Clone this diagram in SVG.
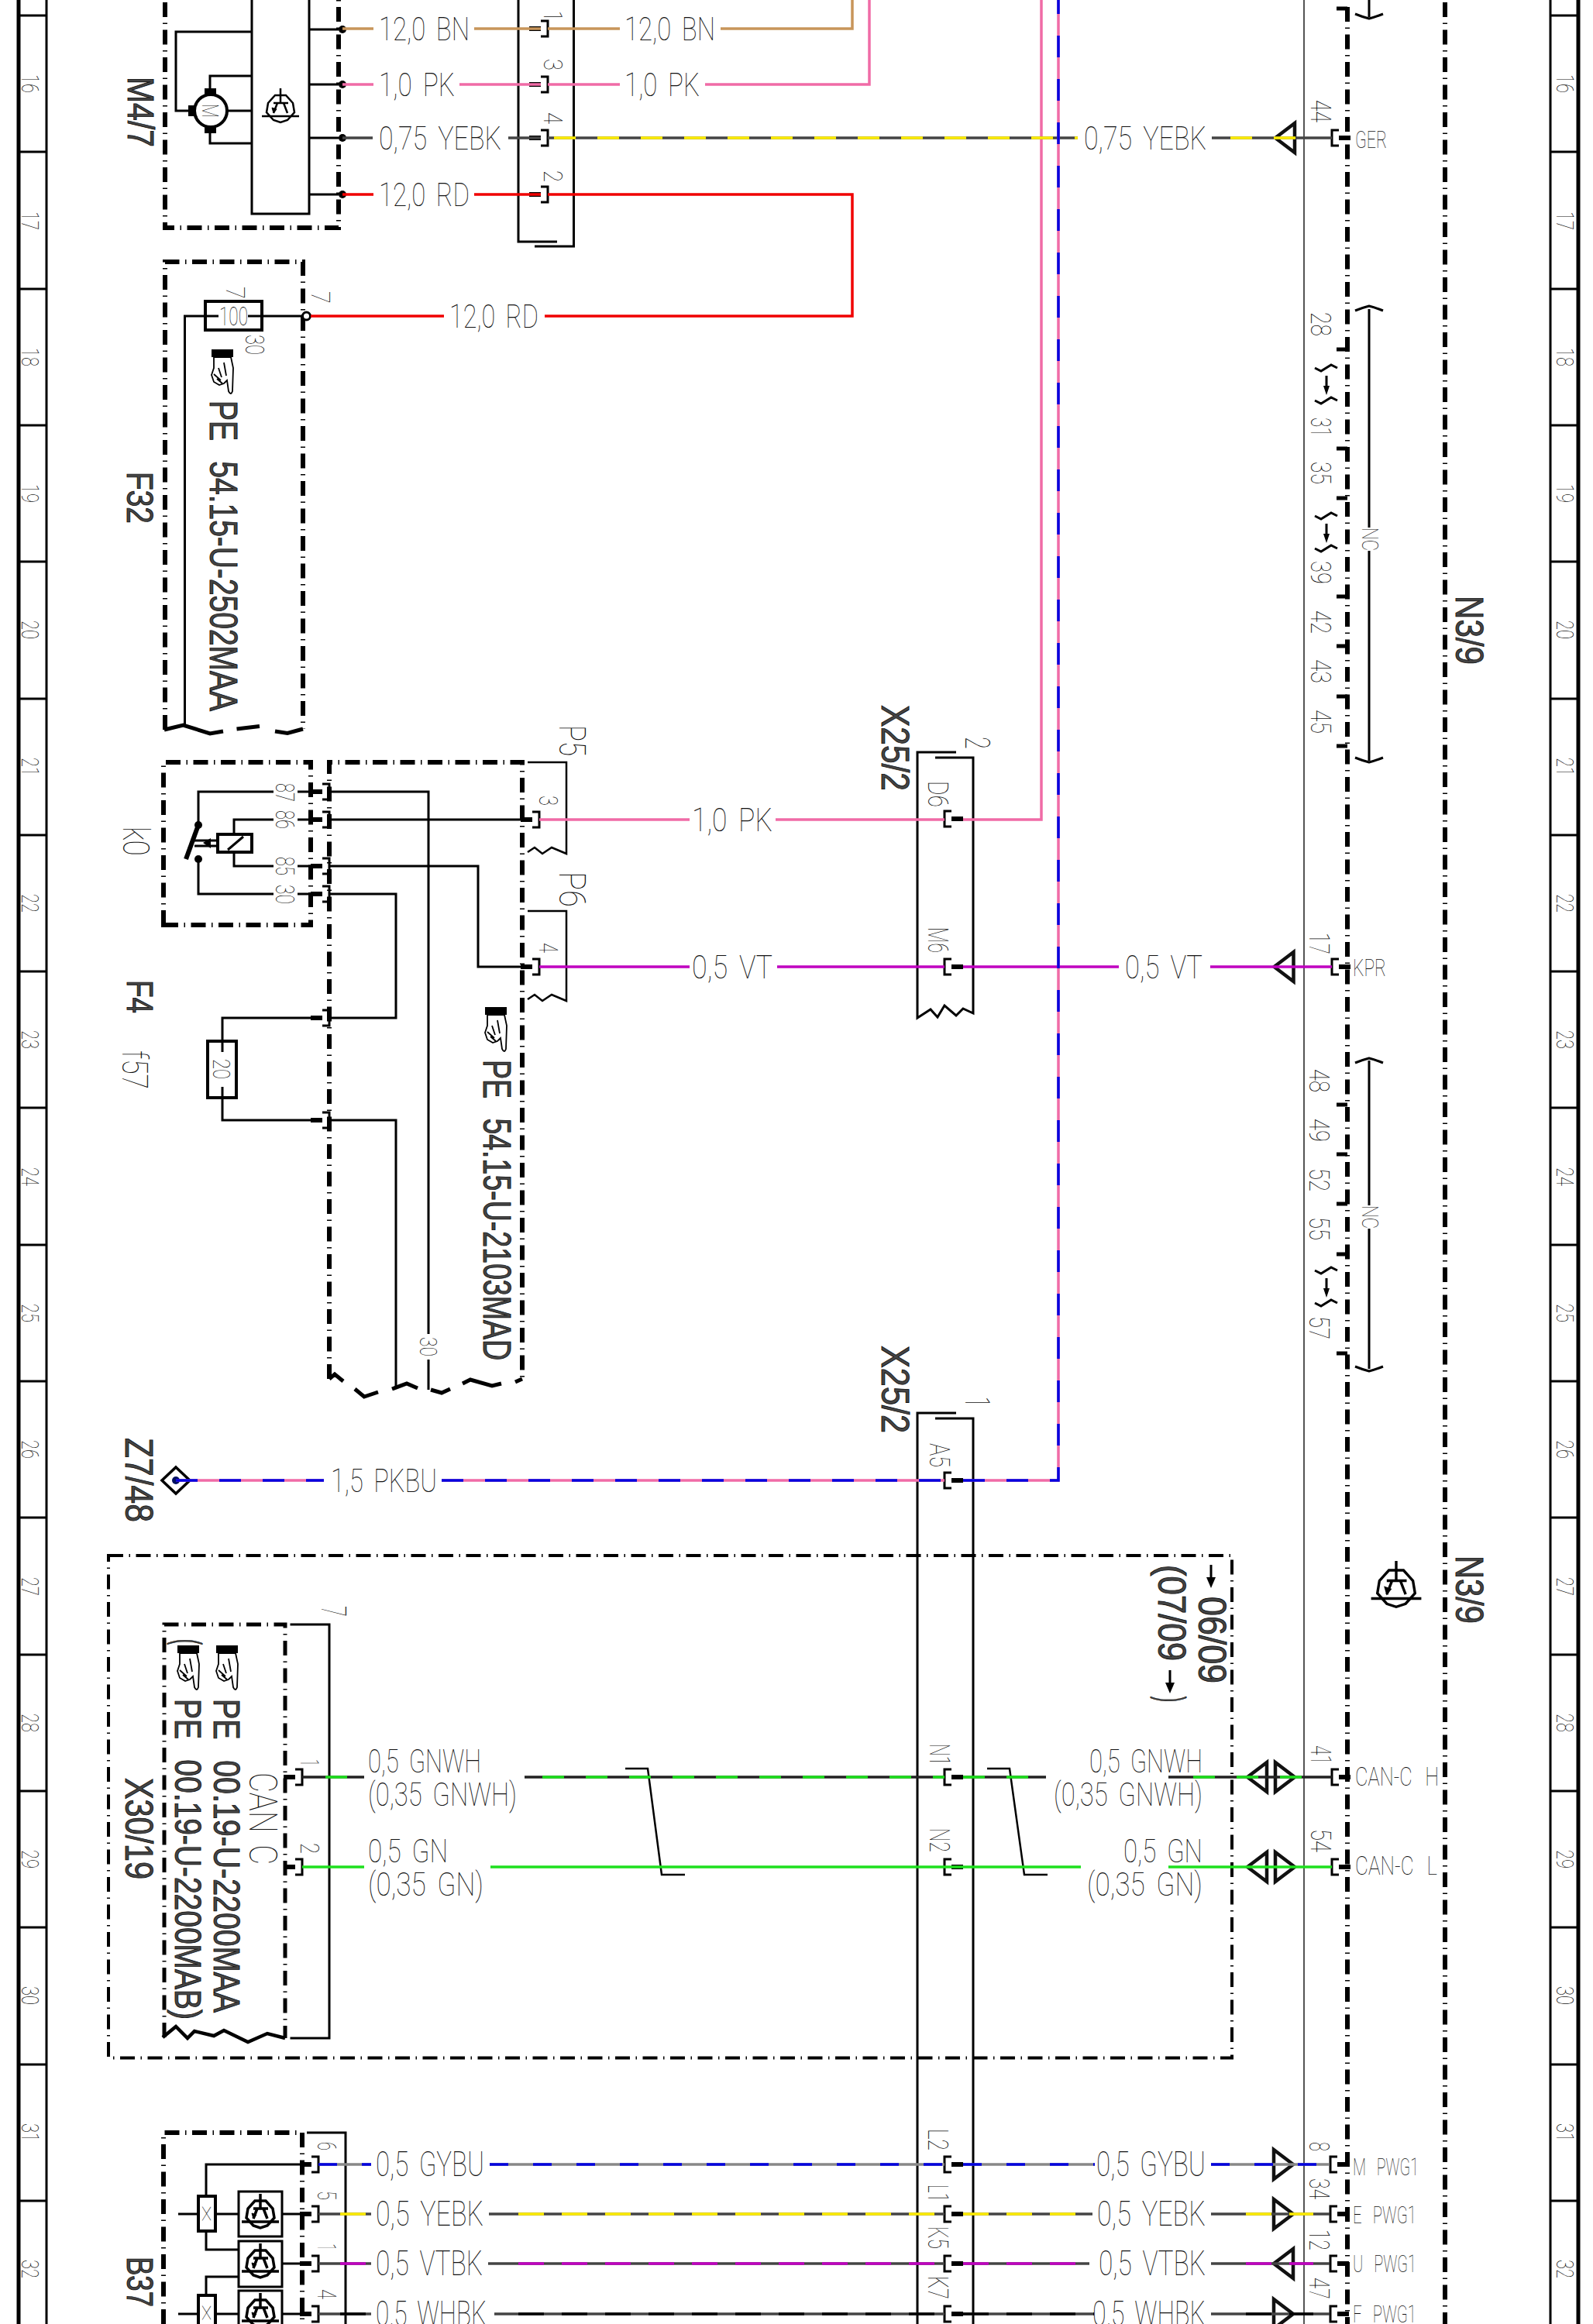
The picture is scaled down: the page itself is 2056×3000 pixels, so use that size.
<svg xmlns="http://www.w3.org/2000/svg" width="2056" height="3000" viewBox="0 0 2056 3000">
<style>
text{font-family:Roboto,"Liberation Sans",sans-serif;}
.t{font-weight:100;fill:#111;word-spacing:.45em}
.b{font-family:"Liberation Sans",sans-serif;font-weight:400;fill:#444;stroke:#111;stroke-width:.9;word-spacing:.4em}
.k{fill:none;stroke:#000;stroke-width:3}
.k2{fill:none;stroke:#000;stroke-width:2.5}
.dd{fill:none;stroke:#000;stroke-width:6;stroke-dasharray:19 7.5 1.5 7.5}
.dd2{fill:none;stroke:#000;stroke-width:4;stroke-dasharray:19 7.5 1.5 7.5}
.w{fill:none;stroke-width:3.5}
.bn{stroke:#c8955a}.pk{stroke:#f06ba6}.rd{stroke:#f00000}.vt{stroke:#c000c0}.gn{stroke:#1ee01e}.dk{stroke:#444}.bk{stroke:#222}.gy{stroke:#888}
.ye2{stroke:#ffee00;stroke-dasharray:28 28}.gn2{stroke:#1ee01e;stroke-dasharray:28 28}.bu2{stroke:#0000e0;stroke-dasharray:28 28}
.bu3{stroke:#0000e0;stroke-dasharray:24 32}.ye3{stroke:#ffee00;stroke-dasharray:33 23}.vt3{stroke:#c000c0;stroke-dasharray:33 23}.bk3{stroke:#000;stroke-dasharray:33 23}
.tri{fill:none;stroke:#111;stroke-width:4.5}
</style>
<defs>
<g id="pr"><path class="k" d="M-9-10H0V10H-9"/><rect x="-24" y="-3" width="15" height="6"/></g>
<g id="pl"><path class="k" d="M9-10H0V10H9"/><rect x="9" y="-3" width="15" height="6"/></g>
<rect id="blk" x="1725" y="-2.5" width="14" height="5"/>
<polygon id="tl" class="tri" points="0,0 25,-19 25,19"/>
<polygon id="trr" class="tri" points="0,0 -25,-19 -25,19"/>
<path id="bt" class="k" d="M-18 5Q-8 1 0-1Q8 1 18 5"/>
<path id="bb" class="k" d="M-18-5Q-8-1 0 1Q8-1 18-5"/>
<g id="swap"><path class="k" d="M-15 0L-7 4 6-4 14 0M-15 42L-7 46 6 38 14 42M0 10V26"/><polygon points="-4,23 4,23 0,35"/></g>
<g id="tran" fill="none" stroke="#000"><polygon points="-7,-17 7,-17 16,-7 18,5 9,15 0,18 -9,15 -18,5 -16,-7"/><path d="M-24 10H24M0-26V-7M-9-7H10M-4-7L-9 6M4-7L9 6"/><polygon points="-9,6 -11,-1 -5,1" fill="#000" stroke-width="1"/></g>
<g id="hand"><rect width="28" height="10"/><path fill="#fff" stroke="#000" stroke-width="1.800" d="M3 10H25L28 24 27 54Q25 60 22 54L20 40 16 44 10 46 3 42 0 33 3 24ZM9 24L13 36M3 32L12 40M16 17L19 34M7 38L14 44"/></g>
</defs>

<g id="ruler-left">
<path class="k" d="M24 0V3000" style="stroke-width:5"/><path class="k" d="M60 0V3000"/>
<path class="k" d="M24 20H60M24 196H60M24 373H60M24 549H60M24 725H60M24 902H60M24 1078H60M24 1254H60M24 1430H60M24 1607H60M24 1783H60M24 1959H60M24 2136H60M24 2312H60M24 2488H60M24 2665H60M24 2841H60"/>
<g class="t" font-size="31">
<text transform="translate(28 96) rotate(90)" textLength="24" lengthAdjust="spacingAndGlyphs">16</text>
<text transform="translate(28 273) rotate(90)" textLength="24" lengthAdjust="spacingAndGlyphs">17</text>
<text transform="translate(28 449) rotate(90)" textLength="24" lengthAdjust="spacingAndGlyphs">18</text>
<text transform="translate(28 625) rotate(90)" textLength="24" lengthAdjust="spacingAndGlyphs">19</text>
<text transform="translate(28 801) rotate(90)" textLength="24" lengthAdjust="spacingAndGlyphs">20</text>
<text transform="translate(28 978) rotate(90)" textLength="24" lengthAdjust="spacingAndGlyphs">21</text>
<text transform="translate(28 1154) rotate(90)" textLength="24" lengthAdjust="spacingAndGlyphs">22</text>
<text transform="translate(28 1330) rotate(90)" textLength="24" lengthAdjust="spacingAndGlyphs">23</text>
<text transform="translate(28 1507) rotate(90)" textLength="24" lengthAdjust="spacingAndGlyphs">24</text>
<text transform="translate(28 1683) rotate(90)" textLength="24" lengthAdjust="spacingAndGlyphs">25</text>
<text transform="translate(28 1859) rotate(90)" textLength="24" lengthAdjust="spacingAndGlyphs">26</text>
<text transform="translate(28 2036) rotate(90)" textLength="24" lengthAdjust="spacingAndGlyphs">27</text>
<text transform="translate(28 2212) rotate(90)" textLength="24" lengthAdjust="spacingAndGlyphs">28</text>
<text transform="translate(28 2388) rotate(90)" textLength="24" lengthAdjust="spacingAndGlyphs">29</text>
<text transform="translate(28 2564) rotate(90)" textLength="24" lengthAdjust="spacingAndGlyphs">30</text>
<text transform="translate(28 2741) rotate(90)" textLength="24" lengthAdjust="spacingAndGlyphs">31</text>
<text transform="translate(28 2917) rotate(90)" textLength="24" lengthAdjust="spacingAndGlyphs">32</text>
</g>
</g>

<g id="ruler-right">
<path class="k" d="M2037 0V3000" style="stroke-width:5"/><path class="k" d="M2001 0V3000"/>
<path class="k" d="M2001 20H2037M2001 196H2037M2001 373H2037M2001 549H2037M2001 725H2037M2001 902H2037M2001 1078H2037M2001 1254H2037M2001 1430H2037M2001 1607H2037M2001 1783H2037M2001 1959H2037M2001 2136H2037M2001 2312H2037M2001 2488H2037M2001 2665H2037M2001 2841H2037"/>
<g class="t" font-size="31">
<text transform="translate(2009 96) rotate(90)" textLength="24" lengthAdjust="spacingAndGlyphs">16</text>
<text transform="translate(2009 273) rotate(90)" textLength="24" lengthAdjust="spacingAndGlyphs">17</text>
<text transform="translate(2009 449) rotate(90)" textLength="24" lengthAdjust="spacingAndGlyphs">18</text>
<text transform="translate(2009 625) rotate(90)" textLength="24" lengthAdjust="spacingAndGlyphs">19</text>
<text transform="translate(2009 801) rotate(90)" textLength="24" lengthAdjust="spacingAndGlyphs">20</text>
<text transform="translate(2009 978) rotate(90)" textLength="24" lengthAdjust="spacingAndGlyphs">21</text>
<text transform="translate(2009 1154) rotate(90)" textLength="24" lengthAdjust="spacingAndGlyphs">22</text>
<text transform="translate(2009 1330) rotate(90)" textLength="24" lengthAdjust="spacingAndGlyphs">23</text>
<text transform="translate(2009 1507) rotate(90)" textLength="24" lengthAdjust="spacingAndGlyphs">24</text>
<text transform="translate(2009 1683) rotate(90)" textLength="24" lengthAdjust="spacingAndGlyphs">25</text>
<text transform="translate(2009 1859) rotate(90)" textLength="24" lengthAdjust="spacingAndGlyphs">26</text>
<text transform="translate(2009 2036) rotate(90)" textLength="24" lengthAdjust="spacingAndGlyphs">27</text>
<text transform="translate(2009 2212) rotate(90)" textLength="24" lengthAdjust="spacingAndGlyphs">28</text>
<text transform="translate(2009 2388) rotate(90)" textLength="24" lengthAdjust="spacingAndGlyphs">29</text>
<text transform="translate(2009 2564) rotate(90)" textLength="24" lengthAdjust="spacingAndGlyphs">30</text>
<text transform="translate(2009 2741) rotate(90)" textLength="24" lengthAdjust="spacingAndGlyphs">31</text>
<text transform="translate(2009 2917) rotate(90)" textLength="24" lengthAdjust="spacingAndGlyphs">32</text>
</g>
</g>

<g id="M4-7">
<path class="dd" d="M213 3V294H437V0"/>
<path class="k" d="M325 0V276H399V0"/>
<path class="k" d="M325 41H227V143H243M325 98H271V115M294 143H325M271 171V185H325M399 38H437M399 109H437M399 178H437M399 251H437"/>
<circle cx="272" cy="143" r="21" fill="#fff" stroke="#000" stroke-width="4"/>
<rect x="243" y="136" width="8" height="14"/><rect x="264" y="114" width="15" height="9"/><rect x="264" y="163" width="15" height="9"/>
<text class="t" transform="translate(261 134) rotate(90)" font-size="30" textLength="18" lengthAdjust="spacingAndGlyphs">M</text>
<use href="#tran" x="362" y="140" stroke-width="2.5"/>
<circle cx="442" cy="38" r="5"/><circle cx="442" cy="109" r="5"/><circle cx="442" cy="178" r="5"/><circle cx="442" cy="251" r="5"/>
<text class="b" transform="translate(165 99) rotate(90)" font-size="48" textLength="91" lengthAdjust="spacingAndGlyphs">M4/7</text>
</g>

<g id="connector-top">
<path class="k" d="M669 0V312H719M740.500 0V318H690"/>
<use href="#pr" x="707" y="37"/><use href="#pr" x="707" y="109"/><use href="#pr" x="707" y="178"/><use href="#pr" x="707" y="251"/>
<g class="t" font-size="34">
<text transform="translate(702 14) rotate(90)" textLength="13" lengthAdjust="spacingAndGlyphs">1</text>
<text transform="translate(702 76) rotate(90)" textLength="15" lengthAdjust="spacingAndGlyphs">3</text>
<text transform="translate(702 145) rotate(90)" textLength="15" lengthAdjust="spacingAndGlyphs">4</text>
<text transform="translate(702 220) rotate(90)" textLength="15" lengthAdjust="spacingAndGlyphs">2</text>
</g>
</g>

<g id="F32">
<path class="dd" d="M213 942V338H391V941"/>
<path style="fill:none;stroke:#000;stroke-width:5" d="M212 942L236.500 936 271 947 288 944M305.500 941L335 937.500M355 944L371 946.500 391 941"/>
<path class="k" d="M238.500 936V408H282M320 408H391"/>
<rect x="265" y="389" width="73" height="37" fill="none" stroke="#000" stroke-width="4"/>
<circle cx="395.500" cy="408" r="5" fill="#fff" stroke="#000" stroke-width="3"/>
<text class="t" x="283" y="420" font-size="33" textLength="37" lengthAdjust="spacingAndGlyphs">100</text>
<g class="t" font-size="34">
<text transform="translate(292 370) rotate(90)" textLength="16" lengthAdjust="spacingAndGlyphs">7</text>
<text transform="translate(317 432) rotate(90)" textLength="26" lengthAdjust="spacingAndGlyphs">30</text>
<text transform="translate(402 376) rotate(90)" textLength="16" lengthAdjust="spacingAndGlyphs">7</text>
</g>
<use href="#hand" x="273" y="451"/>
<text class="b" transform="translate(271 517) rotate(90)" font-size="50" textLength="401" lengthAdjust="spacingAndGlyphs">PE 54.15-U-2502MAA</text>
<text class="b" transform="translate(164 609) rotate(90)" font-size="48" textLength="67" lengthAdjust="spacingAndGlyphs">F32</text>
</g>

<g id="k0">
<path class="dd" d="M211 1194V984H401V1194H211Z"/>
<path class="k" d="M256 1065V1022H353M384 1022H402M302 1077V1058H353M384 1058H402M302 1100V1118H353M384 1118H402M256 1109V1154H353M384 1154H402"/>
<path d="M256 1065L240 1109" fill="none" stroke="#000" stroke-width="6"/>
<circle cx="256" cy="1065" r="5"/><circle cx="256" cy="1109" r="5"/>
<path class="k" d="M251 1085H281M251 1092H281"/><polygon points="262,1088 272,1082 272,1095"/>
<rect x="281" y="1077" width="44" height="23" fill="#fff" stroke="#000" stroke-width="4"/>
<path class="k" d="M294 1097L314 1080"/>
<g class="t" font-size="34">
<text transform="translate(356 1011) rotate(90)" textLength="24" lengthAdjust="spacingAndGlyphs">87</text>
<text transform="translate(356 1046) rotate(90)" textLength="24" lengthAdjust="spacingAndGlyphs">86</text>
<text transform="translate(356 1106) rotate(90)" textLength="24" lengthAdjust="spacingAndGlyphs">85</text>
<text transform="translate(356 1142) rotate(90)" textLength="25" lengthAdjust="spacingAndGlyphs">30</text>
</g>
<text class="t" transform="translate(159 1067) rotate(90)" font-size="48" textLength="38" lengthAdjust="spacingAndGlyphs">k0</text>
</g>

<g id="F4">
<path class="dd" d="M425 1780V984H674V1780"/>
<path style="fill:none;stroke:#000;stroke-width:5" d="M425 1780L432 1774 443 1783M458 1793L470 1803 488 1797M506 1793L525 1786 539 1792M556 1794L570 1798 581 1793M597 1786L607 1781 635 1789 647 1786M665 1784L674 1780"/>
<use href="#pr" x="425" y="1022"/><use href="#pr" x="425" y="1058"/><use href="#pr" x="425" y="1118"/><use href="#pr" x="425" y="1154"/><use href="#pr" x="425" y="1314"/><use href="#pr" x="425" y="1446"/>
<use href="#pr" x="696" y="1058"/><use href="#pr" x="696" y="1248"/>
<path class="k" d="M425 1022H553V1722M553 1755V1794M425 1058H673M425 1118H617V1248H673M425 1154H511V1314H425M402 1314H287V1358M287 1403V1446H402M425 1446H511V1790"/>
<rect x="268" y="1344" width="37" height="73" fill="none" stroke="#000" stroke-width="4"/>
<text class="t" transform="translate(275 1367) rotate(90)" font-size="31" textLength="26" lengthAdjust="spacingAndGlyphs">20</text>
<text class="t" transform="translate(542 1726) rotate(90)" font-size="32" textLength="25" lengthAdjust="spacingAndGlyphs">30</text>
<path class="k2" d="M681 984H731V1102L712 1094 700 1102 690 1094 681 1100M681 1176H731V1292L712 1284 700 1292 690 1284 681 1290"/>
<g class="t">
<text transform="translate(696 1027) rotate(90)" font-size="34" textLength="13" lengthAdjust="spacingAndGlyphs">3</text>
<text transform="translate(696 1217) rotate(90)" font-size="34" textLength="13" lengthAdjust="spacingAndGlyphs">4</text>
<text transform="translate(722 936) rotate(90)" font-size="48" textLength="40" lengthAdjust="spacingAndGlyphs">P5</text>
<text transform="translate(722 1125) rotate(90)" font-size="48" textLength="46" lengthAdjust="spacingAndGlyphs">P6</text>
<text transform="translate(158 1356) rotate(90)" font-size="46" textLength="50" lengthAdjust="spacingAndGlyphs">f57</text>
</g>
<use href="#hand" x="626" y="1300"/>
<text class="b" transform="translate(624 1368) rotate(90)" font-size="50" textLength="388" lengthAdjust="spacingAndGlyphs">PE 54.15-U-2103MAD</text>
<text class="b" transform="translate(164 1265) rotate(90)" font-size="48" textLength="43" lengthAdjust="spacingAndGlyphs">F4</text>
</g>

<g id="X25-2">
<path class="k" d="M1234 971H1184V1314L1201 1303 1210 1313 1219 1298 1234 1311 1243 1302 1256 1308V978H1207"/>
<path class="k" d="M1234 1824H1184V3000M1207 1831H1256V3000"/>
<use href="#pl" x="1219" y="1057"/><use href="#pl" x="1219" y="1248"/><use href="#pl" x="1219" y="1911"/><use href="#pl" x="1219" y="2294"/><use href="#pl" x="1219" y="2410"/><use href="#pl" x="1219" y="2794"/><use href="#pl" x="1219" y="2858"/><use href="#pl" x="1219" y="2922"/><use href="#pl" x="1219" y="2987"/>
<g class="t" font-size="36">
<text transform="translate(1198 1008) rotate(90)" textLength="34" lengthAdjust="spacingAndGlyphs">D6</text>
<text transform="translate(1198 1197) rotate(90)" textLength="33" lengthAdjust="spacingAndGlyphs">M6</text>
<text transform="translate(1200 1863) rotate(90)" textLength="31" lengthAdjust="spacingAndGlyphs">A5</text>
<text transform="translate(1200 2251) rotate(90)" textLength="28" lengthAdjust="spacingAndGlyphs">N1</text>
<text transform="translate(1200 2360) rotate(90)" textLength="31" lengthAdjust="spacingAndGlyphs">N2</text>
<text transform="translate(1198 2748) rotate(90)" textLength="28" lengthAdjust="spacingAndGlyphs">L2</text>
<text transform="translate(1198 2820) rotate(90)" textLength="22" lengthAdjust="spacingAndGlyphs">L1</text>
<text transform="translate(1198 2874) rotate(90)" textLength="29" lengthAdjust="spacingAndGlyphs">K5</text>
<text transform="translate(1198 2938) rotate(90)" textLength="30" lengthAdjust="spacingAndGlyphs">K7</text>
<text transform="translate(1246 951) rotate(90)" font-size="44" textLength="16" lengthAdjust="spacingAndGlyphs">2</text>
<text transform="translate(1246 1803) rotate(90)" font-size="44" textLength="13" lengthAdjust="spacingAndGlyphs">1</text>
</g>
<text class="b" transform="translate(1138 910) rotate(90)" font-size="50" textLength="111" lengthAdjust="spacingAndGlyphs">X25/2</text>
<text class="b" transform="translate(1138 1737) rotate(90)" font-size="50" textLength="113" lengthAdjust="spacingAndGlyphs">X25/2</text>
</g>

<g id="Z7-48">
<polygon points="227,1894 245,1911 227,1928 209,1911" fill="#fff" stroke="#000" stroke-width="3.500"/>
<circle cx="227" cy="1911" r="5" fill="#001060"/>
<text class="b" transform="translate(162 1856) rotate(90)" font-size="50" textLength="109" lengthAdjust="spacingAndGlyphs">Z7/48</text>
</g>

<g id="N3-9">
<path class="k" d="M1683 0V3000" style="stroke:#555;stroke-width:2"/>
<path class="dd" d="M1739 9V3000"/><path class="dd" d="M1865 3V3000"/>
<use href="#blk" y="11"/><use href="#blk" y="451"/><use href="#blk" y="579"/><use href="#blk" y="643"/><use href="#blk" y="770"/><use href="#blk" y="834"/><use href="#blk" y="899"/><use href="#blk" y="963"/><use href="#blk" y="1426"/><use href="#blk" y="1490"/><use href="#blk" y="1554"/><use href="#blk" y="1619"/><use href="#blk" y="1747"/>
<use href="#pl" x="1719" y="178"/><use href="#pl" x="1719" y="1248"/><use href="#pl" x="1719" y="2294"/><use href="#pl" x="1719" y="2410"/><use href="#pl" x="1717" y="2794"/><use href="#pl" x="1717" y="2858"/><use href="#pl" x="1717" y="2922"/><use href="#pl" x="1717" y="2987"/>
<use href="#tl" x="1646" y="178"/><use href="#tl" x="1644.500" y="1248"/>
<use href="#tl" x="1610" y="2294"/><use href="#trr" x="1671" y="2294"/><use href="#tl" x="1610" y="2410"/><use href="#trr" x="1671" y="2410"/>
<use href="#trr" x="1669" y="2794"/><use href="#trr" x="1669" y="2858"/><use href="#tl" x="1644" y="2922"/><use href="#trr" x="1669" y="2987"/>
<path class="k" d="M1767 0V22M1767 399V681M1767 711V982M1767 1369V1556M1767 1586V1767"/>
<use href="#bb" x="1767" y="23"/><use href="#bt" x="1767" y="396"/><use href="#bb" x="1767" y="983"/><use href="#bt" x="1767" y="1367"/><use href="#bb" x="1767" y="1769"/>
<use href="#swap" x="1712" y="475"/><use href="#swap" x="1712" y="666"/><use href="#swap" x="1712" y="1640"/>
<g class="t" font-size="36">
<text transform="translate(1758 681) rotate(90)" font-size="30" textLength="30" lengthAdjust="spacingAndGlyphs">NC</text>
<text transform="translate(1758 1556) rotate(90)" font-size="30" textLength="30" lengthAdjust="spacingAndGlyphs">NC</text>
<text transform="translate(1692 129) rotate(90)" textLength="29" lengthAdjust="spacingAndGlyphs">44</text>
<text transform="translate(1692 403) rotate(90)" textLength="31" lengthAdjust="spacingAndGlyphs">28</text>
<text transform="translate(1692 539) rotate(90)" textLength="25" lengthAdjust="spacingAndGlyphs">31</text>
<text transform="translate(1692 596) rotate(90)" textLength="29" lengthAdjust="spacingAndGlyphs">35</text>
<text transform="translate(1692 724) rotate(90)" textLength="30" lengthAdjust="spacingAndGlyphs">39</text>
<text transform="translate(1692 788) rotate(90)" textLength="30" lengthAdjust="spacingAndGlyphs">42</text>
<text transform="translate(1692 851) rotate(90)" textLength="31" lengthAdjust="spacingAndGlyphs">43</text>
<text transform="translate(1692 916) rotate(90)" textLength="31" lengthAdjust="spacingAndGlyphs">45</text>
<text transform="translate(1690 1204) rotate(90)" textLength="28" lengthAdjust="spacingAndGlyphs">17</text>
<text transform="translate(1690 1380) rotate(90)" textLength="30" lengthAdjust="spacingAndGlyphs">48</text>
<text transform="translate(1690 1444) rotate(90)" textLength="30" lengthAdjust="spacingAndGlyphs">49</text>
<text transform="translate(1690 1508) rotate(90)" textLength="30" lengthAdjust="spacingAndGlyphs">52</text>
<text transform="translate(1690 1571) rotate(90)" textLength="30" lengthAdjust="spacingAndGlyphs">55</text>
<text transform="translate(1690 1699) rotate(90)" textLength="30" lengthAdjust="spacingAndGlyphs">57</text>
<text transform="translate(1692 2253) rotate(90)" textLength="25" lengthAdjust="spacingAndGlyphs">41</text>
<text transform="translate(1692 2361) rotate(90)" textLength="30" lengthAdjust="spacingAndGlyphs">54</text>
<text transform="translate(1690 2765) rotate(90)" textLength="12" lengthAdjust="spacingAndGlyphs">8</text>
<text transform="translate(1690 2812) rotate(90)" textLength="27" lengthAdjust="spacingAndGlyphs">34</text>
<text transform="translate(1690 2878) rotate(90)" textLength="27" lengthAdjust="spacingAndGlyphs">12</text>
<text transform="translate(1690 2940) rotate(90)" textLength="28" lengthAdjust="spacingAndGlyphs">47</text>
</g>
<g class="t" font-size="31">
<text x="1749" y="191" textLength="41" lengthAdjust="spacingAndGlyphs">GER</text>
<text x="1746" y="1260" textLength="43" lengthAdjust="spacingAndGlyphs">KPR</text>
<text x="1749" y="2305" font-size="34" textLength="108" lengthAdjust="spacingAndGlyphs">CAN-C H</text>
<text x="1749" y="2420" font-size="34" textLength="106" lengthAdjust="spacingAndGlyphs">CAN-C L</text>
<text x="1746" y="2808" textLength="85" lengthAdjust="spacingAndGlyphs">M PWG1</text>
<text x="1746" y="2870" textLength="82" lengthAdjust="spacingAndGlyphs">E PWG1</text>
<text x="1746" y="2933" textLength="82" lengthAdjust="spacingAndGlyphs">U PWG1</text>
<text x="1746" y="2998" textLength="82" lengthAdjust="spacingAndGlyphs">F PWG1</text>
</g>
<use href="#tran" transform="translate(1802 2050) scale(1.350)" stroke-width="2.500"/>
<text class="b" transform="translate(1879 769) rotate(90)" font-size="50" textLength="89" lengthAdjust="spacingAndGlyphs">N3/9</text>
<text class="b" transform="translate(1879 2008) rotate(90)" font-size="50" textLength="88" lengthAdjust="spacingAndGlyphs">N3/9</text>
</g>

<g id="CAN-box">
<path class="dd2" d="M140 2008H1590V2656.500H140Z"/>
<path class="k" d="M807 2283H836L854 2420H884M1274 2283H1303L1322 2420H1352" style="stroke-width:2.500"/>
<text class="b" transform="translate(1547 2061) rotate(90)" font-size="50" textLength="112" lengthAdjust="spacingAndGlyphs">06/09</text>
<path class="k" d="M1563 2020V2040"/><polygon points="1557,2036 1569,2036 1563,2050"/>
<text class="b" transform="translate(1495 2020) rotate(90)" font-size="50" textLength="124" lengthAdjust="spacingAndGlyphs">(07/09</text>
<path class="k" d="M1510 2156V2176"/><polygon points="1504,2172 1516,2172 1510,2186"/>
<text class="b" transform="translate(1495 2190) rotate(90)" font-size="50" textLength="7" lengthAdjust="spacingAndGlyphs">)</text>
</g>

<g id="X30-19">
<path class="dd" d="M212 2630V2097H368V2631" style="stroke-width:5"/>
<path style="fill:none;stroke:#000;stroke-width:4.500" d="M210 2630L227 2616 242 2631 251 2622 276 2628 289 2621 320 2636 345 2625 368 2631"/>
<path class="k" d="M374.500 2097H425V2631H374.500"/>
<use href="#pr" x="390" y="2294"/><use href="#pr" x="390" y="2410"/>
<g class="t">
<text transform="translate(388 2271) rotate(90)" font-size="34" textLength="9" lengthAdjust="spacingAndGlyphs">1</text>
<text transform="translate(388 2379) rotate(90)" font-size="34" textLength="14" lengthAdjust="spacingAndGlyphs">2</text>
<text transform="translate(415 2073) rotate(90)" font-size="44" textLength="14" lengthAdjust="spacingAndGlyphs">7</text>
<text transform="translate(322 2288) rotate(90)" font-size="50" textLength="119" lengthAdjust="spacingAndGlyphs">CAN C</text>
</g>
<use href="#hand" x="279" y="2124"/><use href="#hand" x="229" y="2124"/>
<text class="b" transform="translate(276 2193) rotate(90)" font-size="48" textLength="405" lengthAdjust="spacingAndGlyphs">PE 00.19-U-2200MAA</text>
<text class="b" transform="translate(226 2116) rotate(90)" font-size="48" textLength="7" lengthAdjust="spacingAndGlyphs">(</text>
<text class="b" transform="translate(226 2193) rotate(90)" font-size="48" textLength="414" lengthAdjust="spacingAndGlyphs">PE 00.19-U-2200MAB)</text>
<text class="b" transform="translate(162 2295) rotate(90)" font-size="50" textLength="131" lengthAdjust="spacingAndGlyphs">X30/19</text>
</g>

<g id="B37">
<path class="dd" d="M211 3000V2753H390V3000"/>
<path class="k" d="M396 2753H446V3000"/>
<use href="#pr" x="411" y="2794"/><use href="#pr" x="411" y="2858"/><use href="#pr" x="411" y="2922"/><use href="#pr" x="411" y="2987"/>
<path class="k" d="M266 2835V2794H390M230 2858H256M278 2858H308M364 2858H390M266 2880V2904H308M364 2922H390M308 2939H266V2963M230 2987H256M278 2987H308M364 2987H390"/>
<rect x="256" y="2835" width="22" height="45" fill="#fff" stroke="#000" stroke-width="4"/>
<rect x="256" y="2963" width="22" height="60" fill="#fff" stroke="#000" stroke-width="4"/>
<g fill="#fff" stroke="#000" stroke-width="3"><rect x="308" y="2829" width="56" height="58"/><rect x="308" y="2893" width="56" height="59"/><rect x="308" y="2957" width="56" height="60"/></g>
<use href="#tran" x="336" y="2858" stroke-width="3.5"/><use href="#tran" x="336" y="2922" stroke-width="3.5"/><use href="#tran" x="336" y="2986" stroke-width="3.5"/>
<g class="t">
<text transform="translate(261 2847) rotate(90)" font-size="14" textLength="21" lengthAdjust="spacingAndGlyphs">X</text>
<text transform="translate(261 2975) rotate(90)" font-size="14" textLength="21" lengthAdjust="spacingAndGlyphs">X</text>
<text transform="translate(410 2765) rotate(90)" font-size="34" textLength="11" lengthAdjust="spacingAndGlyphs">6</text>
<text transform="translate(410 2828) rotate(90)" font-size="34" textLength="12" lengthAdjust="spacingAndGlyphs">5</text>
<text transform="translate(410 2896) rotate(90)" font-size="34" textLength="10" lengthAdjust="spacingAndGlyphs">1</text>
<text transform="translate(410 2955) rotate(90)" font-size="34" textLength="13" lengthAdjust="spacingAndGlyphs">4</text>
</g>
<text class="b" transform="translate(164 2913) rotate(90)" font-size="48" textLength="65" lengthAdjust="spacingAndGlyphs">B37</text>
</g>

<g id="wire-labels" class="t">
<g font-size="42">
<text x="489" y="52" textLength="117" lengthAdjust="spacingAndGlyphs">12,0 BN</text>
<text x="806" y="52" textLength="117" lengthAdjust="spacingAndGlyphs">12,0 BN</text>
<text x="489" y="124" textLength="98" lengthAdjust="spacingAndGlyphs">1,0 PK</text>
<text x="806" y="124" textLength="97" lengthAdjust="spacingAndGlyphs">1,0 PK</text>
<text x="489" y="193" textLength="158" lengthAdjust="spacingAndGlyphs">0,75 YEBK</text>
<text x="1399" y="193" textLength="158" lengthAdjust="spacingAndGlyphs">0,75 YEBK</text>
<text x="489" y="266" textLength="117" lengthAdjust="spacingAndGlyphs">12,0 RD</text>
<text x="580" y="423" textLength="115" lengthAdjust="spacingAndGlyphs">12,0 RD</text>
<text x="893" y="1073" textLength="104" lengthAdjust="spacingAndGlyphs">1,0 PK</text>
<text x="893" y="1263" textLength="104" lengthAdjust="spacingAndGlyphs">0,5 VT</text>
<text x="1452" y="1263" textLength="100" lengthAdjust="spacingAndGlyphs">0,5 VT</text>
<text x="427" y="1926" textLength="137" lengthAdjust="spacingAndGlyphs">1,5 PKBU</text>
<text x="475" y="2288" textLength="146" lengthAdjust="spacingAndGlyphs">0,5 GNWH</text>
<text x="475" y="2331" textLength="192" lengthAdjust="spacingAndGlyphs">(0,35 GNWH)</text>
<text x="475" y="2404" textLength="103" lengthAdjust="spacingAndGlyphs">0,5 GN</text>
<text x="475" y="2447" textLength="149" lengthAdjust="spacingAndGlyphs">(0,35 GN)</text>
<text x="1406" y="2288" textLength="146" lengthAdjust="spacingAndGlyphs">0,5 GNWH</text>
<text x="1360" y="2331" textLength="192" lengthAdjust="spacingAndGlyphs">(0,35 GNWH)</text>
<text x="1450" y="2404" textLength="102" lengthAdjust="spacingAndGlyphs">0,5 GN</text>
<text x="1403" y="2447" textLength="149" lengthAdjust="spacingAndGlyphs">(0,35 GN)</text>
</g>
<g font-size="44">
<text x="485" y="2809" textLength="140" lengthAdjust="spacingAndGlyphs">0,5 GYBU</text>
<text x="485" y="2873" textLength="139" lengthAdjust="spacingAndGlyphs">0,5 YEBK</text>
<text x="485" y="2937" textLength="138" lengthAdjust="spacingAndGlyphs">0,5 VTBK</text>
<text x="485" y="3002" textLength="143" lengthAdjust="spacingAndGlyphs">0,5 WHBK</text>
<text x="1415" y="2809" textLength="141" lengthAdjust="spacingAndGlyphs">0,5 GYBU</text>
<text x="1416" y="2873" textLength="140" lengthAdjust="spacingAndGlyphs">0,5 YEBK</text>
<text x="1418" y="2937" textLength="138" lengthAdjust="spacingAndGlyphs">0,5 VTBK</text>
<text x="1410" y="3002" textLength="146" lengthAdjust="spacingAndGlyphs">0,5 WHBK</text>
</g>
</g>

<g id="connectors">
<path class="w bn" d="M442 37H482M612 37H698M707 37H800M930 37H1100V0"/>
<path class="w pk" d="M442 109H482M593 109H698M707 109H800M910 109H1122V0"/>
<path class="w pk" d="M696 1058H890M1001 1058H1219M1243 1058H1344V0"/>
<path class="w dk" d="M442 178H481M656 178H698M707 178H1391M1564 178H1719"/>
<path class="w ye2" d="M715 178H1391M1588 178H1672"/>
<path class="w rd" d="M442 251H482M612 251H698M707 251H1100V408H703M573 408H401"/>
<path class="w vt" d="M696 1248H890M1003 1248H1219M1243 1248H1444M1562 1248H1719"/>
<path class="w pk" d="M227 1911H418M570 1911H1219M1243 1911H1366V0"/>
<path class="w bu2" d="M227 1911H418M570 1911H1219M1243 1911H1366V0"/>
<path class="w bk" d="M390 2294H470M677 2294H1219M1243 2294H1350M1508 2294H1719"/>
<path class="w gn2" d="M420 2294H470M700 2294H1219M1243 2294H1350M1540 2294H1690"/>
<path class="w gn" d="M390 2410H470M633 2410H1395M1508 2410H1719"/>
<path class="w gy" d="M411 2794H479M632 2794H1219M1243 2794H1413M1563 2794H1716"/>
<path class="w bu3" d="M411 2794H479M632 2794H1219M1243 2794H1413M1563 2794H1716"/>
<path class="w dk" d="M411 2858H479M631 2858H1219M1243 2858H1410M1563 2858H1716M411 2922H479M630 2922H1219M1243 2922H1406M1563 2922H1716M411 2987H479M638 2987H1219M1243 2987H1412M1563 2987H1716"/>
<path class="w ye3" d="M439 2858H479M669 2858H1219M1243 2858H1410M1608 2858H1695"/>
<path class="w vt3" d="M439 2922H479M669 2922H1219M1243 2922H1406M1608 2922H1695"/>
<path class="w bk3" d="M439 2987H479M669 2987H1219M1243 2987H1412M1608 2987H1695"/>
</g>
</svg>
